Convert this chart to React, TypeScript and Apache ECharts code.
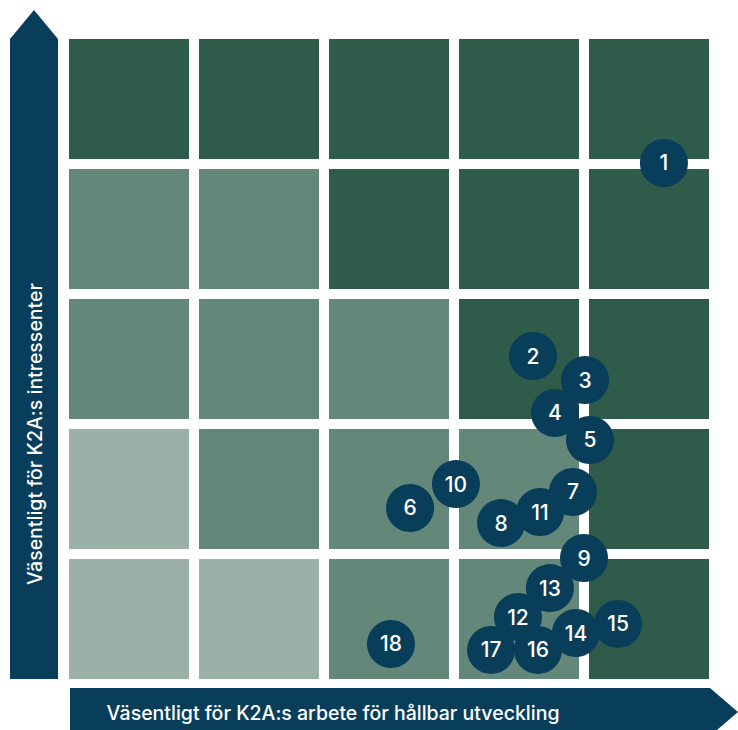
import React, { useEffect, useRef } from "react";
import * as echarts from "echarts";

// Cell colour levels per row (top row first), columns left to right
const cellLevels: string[][] = [
  ["D", "D", "D", "D", "D"],
  ["M", "M", "D", "D", "D"],
  ["M", "M", "M", "D", "D"],
  ["L", "M", "M", "M", "D"],
  ["L", "L", "M", "M", "D"],
];
const levelColors: Record<string, string> = {
  D: "#2E5B4A",
  M: "#638779",
  L: "#9BB1A8",
};

// Bubbles: labels and positions (x: hållbar utveckling, y: intressenter), scale 0–5
const bubbleLabels = ["1", "2", "3", "4", "5", "6", "7", "8", "9", "10", "11", "12", "13", "14", "15", "16", "17", "18"];
const bubbleX = [4.615, 3.608, 4.008, 3.777, 4.046, 2.662, 3.915, 3.362, 4.0, 3.015, 3.662, 3.492, 3.738, 3.938, 4.262, 3.646, 3.285, 2.515];
const bubbleY = [4.008, 2.523, 2.338, 2.085, 1.877, 1.354, 1.477, 1.238, 0.969, 1.538, 1.323, 0.515, 0.738, 0.392, 0.462, 0.262, 0.262, 0.308];

const xTitle = "Väsentligt för K2A:s arbete för hållbar utveckling";
const yTitle = "Väsentligt för K2A:s intressenter";

const NAVY = "#093E5B";
const FONT = "Inter, 'Noto Sans', sans-serif";

export default function App() {
  const ref = useRef<HTMLDivElement>(null);
  useEffect(() => {
    document.body.style.margin = "0";
    if (!ref.current) return;
    const chart = echarts.init(ref.current, null, { renderer: "svg" });

    const lvlKeys = ["D", "M", "L"];
    const cells: number[][] = [];
    cellLevels.forEach((row, r) => {
      row.forEach((lvl, c) => {
        cells.push([c, 4 - r, lvlKeys.indexOf(lvl)]);
      });
    });

    chart.setOption({
      animation: false,
      backgroundColor: "#ffffff",
      grid: { left: 64, top: 34, width: 650, height: 650 },
      xAxis: { type: "value", min: 0, max: 5, show: false },
      yAxis: { type: "value", min: 0, max: 5, show: false },
      graphic: [
        {
          type: "polygon",
          shape: { points: [[10, 679], [10, 39], [34, 10], [58, 39], [58, 679]] },
          style: { fill: NAVY },
          z: 10,
        },
        {
          type: "polygon",
          shape: { points: [[70, 688], [710, 688], [738, 712], [710, 736], [70, 736]] },
          style: { fill: NAVY },
          z: 10,
        },
        {
          type: "text",
          x: 35,
          y: 434,
          rotation: Math.PI / 2,
          style: {
            text: yTitle,
            fill: "#ffffff",
            font: `500 19.5px ${FONT}`,
            textAlign: "center",
            textVerticalAlign: "middle",
          },
          z: 11,
        },
        {
          type: "text",
          x: 333,
          y: 713,
          style: {
            text: xTitle,
            fill: "#ffffff",
            font: `500 19.5px ${FONT}`,
            textAlign: "center",
            textVerticalAlign: "middle",
          },
          z: 11,
        },
      ],
      series: [
        {
          type: "custom",
          silent: true,
          data: cells,
          renderItem: (params: any, api: any) => {
            const x = api.value(0);
            const y = api.value(1);
            const lvl = lvlKeys[api.value(2)];
            const p = api.coord([x, y + 1]);
            const s = api.size([1, 1]);
            return {
              type: "rect",
              shape: { x: p[0] + 5, y: p[1] + 5, width: s[0] - 10, height: s[1] - 10 },
              style: { fill: levelColors[lvl] },
            };
          },
          z: 1,
        },
        {
          type: "scatter",
          symbol: "circle",
          symbolSize: 48,
          itemStyle: { color: NAVY, opacity: 1 },
          label: {
            show: true,
            position: "inside",
            formatter: "{b}",
            color: "#ffffff",
            fontSize: 21,
            fontWeight: 500,
            fontFamily: FONT,
          },
          data: bubbleLabels.map((l, i) => ({ name: l, value: [bubbleX[i], bubbleY[i]] })),
          z: 5,
        },
      ],
    });
    return () => chart.dispose();
  }, []);
  return <div ref={ref} style={{ width: 738, height: 730 }} />;
}
